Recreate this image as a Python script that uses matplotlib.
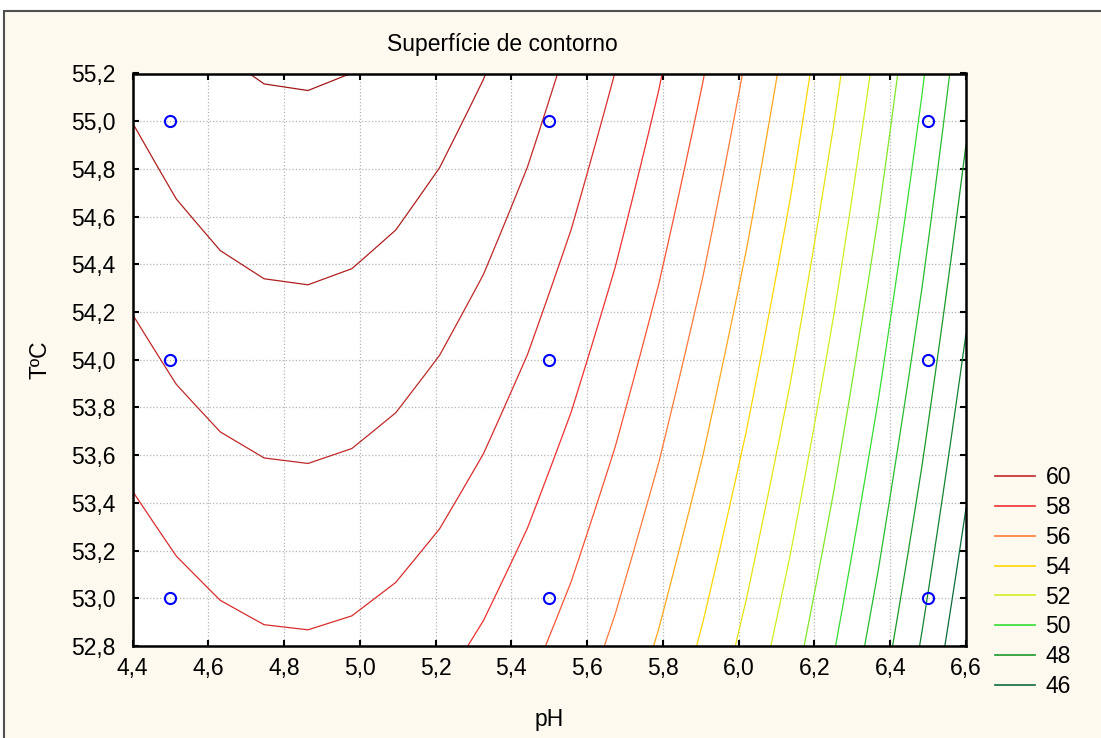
import numpy as np
import matplotlib
matplotlib.use("Agg")
import matplotlib.pyplot as plt
from matplotlib.lines import Line2D
from matplotlib.patches import Rectangle
from matplotlib.colors import LinearSegmentedColormap
from matplotlib.ticker import FuncFormatter, FixedLocator

plt.rcParams['font.family'] = ['Liberation Sans', 'DejaVu Sans']

# ---------------- data ----------------
# 3x3 factorial design points
ph_levels = [4.5, 5.5, 6.5]
temp_levels = [53.0, 54.0, 55.0]
# response at the design points (rows: temperature, columns: pH), estimated from figure
response = [
    [58.70, 57.25, 46.97],
    [60.09, 58.65, 48.37],
    [61.35, 59.91, 49.63],
]
contour_levels = [46, 47, 48, 49, 50, 51, 52, 53, 54, 55, 56, 57, 58, 59, 60, 61, 62]
legend_levels = [60, 58, 56, 54, 52, 50, 48, 46]
x_ticks = [4.4, 4.6, 4.8, 5.0, 5.2, 5.4, 5.6, 5.8, 6.0, 6.2, 6.4, 6.6]
y_ticks = [52.8, 53.0, 53.2, 53.4, 53.6, 53.8, 54.0, 54.2, 54.4, 54.6, 54.8, 55.0, 55.2]

# ---------------- quadratic response surface fit ----------------
P, T = np.meshgrid(ph_levels, temp_levels)
p = P.ravel() - 5.5
t = T.ravel() - 54.0
z = np.array(response).ravel()
X = np.column_stack([np.ones_like(p), p, t, p**2, t**2, p*t])
coef, *_ = np.linalg.lstsq(X, z, rcond=None)

pg = np.linspace(x_ticks[0], x_ticks[-1], 20)
tg = np.linspace(y_ticks[0], y_ticks[-1], 20)
PG, TG = np.meshgrid(pg, tg)
pp, tt = PG - 5.5, TG - 54.0
ZG = coef[0] + coef[1]*pp + coef[2]*tt + coef[3]*pp**2 + coef[4]*tt**2 + coef[5]*pp*tt

# ---------------- colours ----------------
anchor = [(0.0, '#0b6b3a'), (2/16, '#1a9a2a'), (4/16, '#33dd33'), (6/16, '#ccf020'),
          (8/16, '#ffd700'), (10/16, '#ff7a3a'), (12/16, '#f03030'), (14/16, '#c02828'),
          (1.0, '#a01818')]
cmap = LinearSegmentedColormap.from_list('statcont', anchor)
lo, hi = contour_levels[0], contour_levels[-1]
def lev_color(v):
    return cmap((v - lo) / (hi - lo))
line_colors = [lev_color(v) for v in contour_levels]

# ---------------- figure ----------------
W, H = 1101, 738
FS = 16.5
fig = plt.figure(figsize=(W/100, H/100), dpi=100, facecolor='white')
fig.patches.append(Rectangle((4/W, -0.1), 1.2, (H-11)/H + 0.1, transform=fig.transFigure,
                             facecolor='#fdf9ee', edgecolor='#505050', linewidth=1.5,
                             zorder=-10))

ax = fig.add_axes([132.5/W, 1-646/H, (966-132.5)/W, (646-73.5)/H])
ax.set_zorder(2)
ax.set_facecolor('white')

ax.contour(PG, TG, ZG, levels=contour_levels, colors=line_colors, linewidths=0.9)
ax.plot(P.ravel(), T.ravel(), linestyle='none', marker='o', markersize=8,
        markerfacecolor='none', markeredgecolor='#0000ff', markeredgewidth=1.5, zorder=5)

ax.set_xlim(x_ticks[0], x_ticks[-1])
ax.set_ylim(y_ticks[0], y_ticks[-1])
ax.xaxis.set_major_locator(FixedLocator(x_ticks))
ax.yaxis.set_major_locator(FixedLocator(y_ticks))
fmt = FuncFormatter(lambda v, pos: f"{v:.1f}".replace('.', ','))
ax.xaxis.set_major_formatter(fmt)
ax.yaxis.set_major_formatter(fmt)
ax.tick_params(direction='in', length=4, width=1.5, top=True, right=True,
               labelsize=FS, colors='black')
ax.tick_params(axis='x', pad=8)
ax.tick_params(axis='y', pad=12)
for s in ax.spines.values():
    s.set_linewidth(1.8)
ax.grid(True, linestyle=':', color='#b4b4b4', linewidth=0.9)
ax.set_axisbelow(True)

ax.set_xlabel('pH', fontsize=FS, labelpad=20)
ax.set_ylabel('TºC', fontsize=FS, labelpad=14)
fig.text(502/W, 1-44/H, 'Superfície de contorno', fontsize=FS, ha='center', va='center')

handles = [Line2D([0], [0], color=lev_color(v), linewidth=1.2) for v in legend_levels]
fig.legend(handles, [str(v) for v in legend_levels], loc='upper left',
           bbox_to_anchor=(995/W, 1-466/H), frameon=False, fontsize=FS,
           borderpad=0, borderaxespad=0, handlelength=1.75, handletextpad=0.45,
           labelspacing=0.30)

fig.savefig('out.png', dpi=100, facecolor=fig.get_facecolor())
